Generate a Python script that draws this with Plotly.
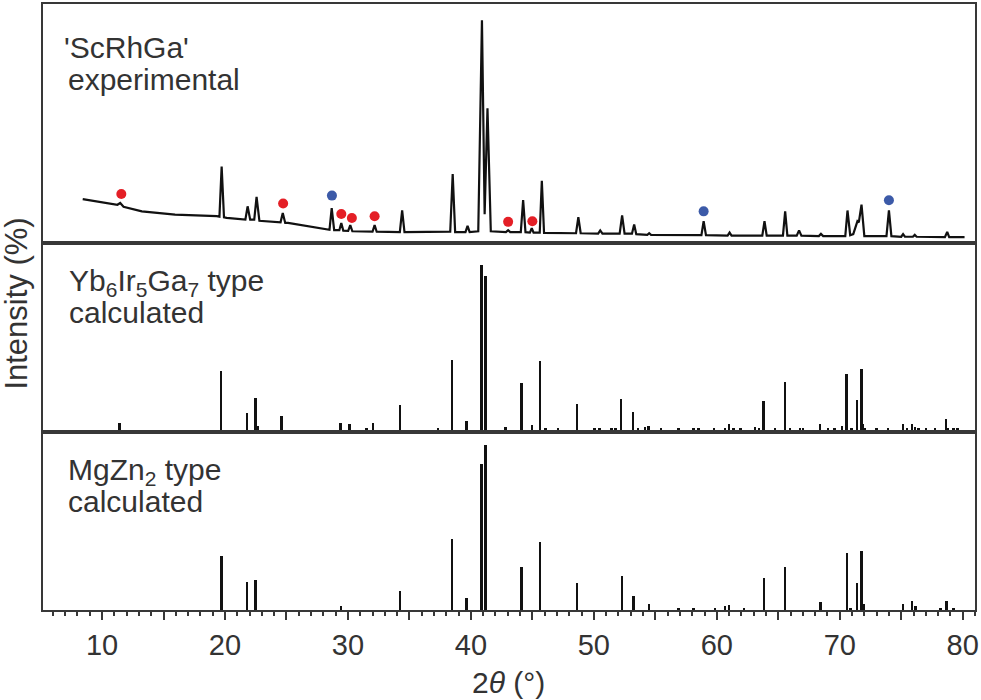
import plotly.graph_objects as go
from plotly.subplots import make_subplots

# experimental pattern ('ScRhGa'): 2theta / relative intensity
exp_2theta = [8.43, 9.46, 11.25, 11.48, 11.75, 13.24, 15.94, 19.33, 19.55, 19.73, 19.92, 20.14,
              21.48, 21.66, 21.84, 22.05, 22.38, 22.57, 22.8, 24.32, 24.52, 24.7, 24.9, 25.13,
              26.6, 28.11, 28.5, 28.68, 28.88, 29.3, 29.46, 29.62, 30.02, 30.19, 30.36, 32.0,
              32.17, 32.34, 34.22, 34.41, 34.6, 38.32, 38.52, 38.72, 39.56, 39.73, 39.9, 40.6,
              40.9, 41.12, 41.35, 41.62, 42.85, 43.03, 43.2, 44.06, 44.25, 44.44, 44.8, 44.95,
              45.1, 45.6, 45.77, 45.95, 48.55, 48.74, 48.93, 50.35, 50.52, 50.7, 52.1, 52.3,
              52.5, 53.1, 53.28, 53.45, 54.35, 54.5, 54.65, 58.75, 58.93, 59.12, 60.88, 61.04,
              61.2, 63.7, 63.88, 64.06, 65.38, 65.56, 65.74, 66.5, 66.69, 66.88, 68.3, 68.47,
              68.65, 70.45, 70.63, 70.85, 71.1, 71.44, 71.55, 71.77, 72.0, 73.8, 74.0, 74.2,
              75.0, 75.15, 75.3, 75.95, 76.1, 76.25, 78.55, 78.74, 78.9, 80.15]
exp_int = [18.3, 17.3, 15.7, 16.5, 14.8, 12.7, 11.2, 10.5, 10.3, 33.2, 10.0, 9.7,
           9.0, 8.9, 15.0, 8.9, 8.9, 19.3, 8.4, 7.9, 7.7, 12.0, 7.4, 7.4,
           5.9, 4.4, 4.3, 14.2, 4.1, 4.1, 7.4, 3.9, 3.8, 6.4, 3.6, 3.4,
           6.4, 3.4, 3.2, 13.1, 3.2, 3.4, 29.7, 3.2, 3.2, 6.1, 3.2, 3.6,
           100, 11.4, 59.8, 3.6, 3.2, 4.1, 3.2, 3.2, 17.8, 3.2, 3.0, 5.0,
           3.0, 3.0, 26.7, 2.9, 2.7, 10.0, 2.7, 2.5, 4.0, 2.5, 2.5, 10.8,
           2.5, 2.5, 6.7, 2.3, 2.0, 2.7, 2.0, 1.8, 8.2, 1.8, 1.6, 3.0,
           1.6, 1.6, 8.2, 1.6, 1.6, 12.7, 1.6, 1.6, 4.0, 1.6, 1.4, 2.4,
           1.4, 1.4, 13.1, 1.8, 2.3, 8.2, 7.7, 15.8, 1.4, 1.4, 13.1, 1.4,
           1.1, 2.3, 1.1, 1.1, 2.0, 1.1, 0.9, 3.3, 0.9, 0.9]

# impurity markers
red_2theta = [11.57, 24.73, 29.46, 30.32, 32.17, 43.03, 45.0]
red_int = [20.6, 16.3, 11.5, 9.7, 10.5, 7.9, 8.2]
blue_2theta = [28.70, 58.93, 74.0]
blue_int = [19.9, 12.7, 17.8]

# Yb6Ir5Ga7 type, calculated
yb_2theta = [11.43, 19.68, 21.81, 22.51, 22.7, 24.6, 29.41, 30.14, 31.54, 32.08, 34.25, 37.36,
             38.47, 39.68, 40.9, 41.22, 42.84, 44.14, 45.0, 45.63, 46.09, 47.11, 48.66, 50.09,
             50.47, 51.44, 51.77, 52.25, 53.2, 53.6, 54.2, 54.47, 55.5, 56.9, 58.12, 58.52,
             59.8, 60.69, 61.01, 61.39, 61.93, 63.12, 63.45, 63.82, 64.74, 65.56, 65.96, 66.77,
             67.04, 68.42, 69.07, 69.61, 70.2, 70.58, 70.96, 71.44, 71.77, 71.91, 72.09, 72.99,
             73.94, 75.15, 75.47, 75.9, 76.15, 76.42, 77.04, 77.77, 78.64, 78.8, 79.29, 79.61]
yb_int = [5.2, 36.4, 11.1, 19.9, 3.6, 9.4, 5.0, 4.6, 2.2, 5.2, 16.1, 2.0,
          42.8, 6.4, 100, 93.4, 3.0, 29.4, 4.2, 42.3, 2.0, 2.2, 16.5, 2.2,
          2.2, 2.2, 2.2, 19.5, 11.5, 2.2, 2.6, 3.2, 2.0, 2.0, 2.0, 2.0,
          2.0, 2.2, 4.6, 2.2, 2.2, 3.0, 2.2, 18.1, 2.2, 29.8, 2.0, 2.2,
          2.2, 4.6, 2.2, 2.2, 3.2, 34.8, 2.2, 18.9, 37.4, 4.6, 2.2, 2.0,
          2.0, 4.6, 2.2, 4.6, 3.0, 2.0, 2.0, 2.2, 7.6, 2.2, 2.2, 2.0]

# MgZn2 type, calculated
mg_2theta = [19.73, 21.81, 22.51, 29.46, 34.25, 38.47, 39.68, 40.87, 41.22, 44.14, 45.63, 48.66,
             52.3, 53.25, 54.52, 56.9, 58.12, 59.88, 60.69, 61.01, 62.25, 63.85, 65.56, 68.45,
             70.6, 70.9, 71.44, 71.77, 71.96, 75.15, 75.9, 76.18, 78.2, 78.69, 79.26]
mg_int = [33.1, 17.1, 18.5, 2.4, 11.6, 43.2, 7.6, 88.4, 100, 26.5, 41.2, 16.5,
          20.5, 8.6, 4.0, 1.2, 1.2, 1.2, 2.4, 3.4, 1.2, 19.7, 26.1, 5.0,
          34.7, 1.2, 16.7, 36.1, 3.6, 3.6, 5.6, 2.8, 1.2, 5.4, 1.2]

frame = "#383838"
ink = "#111111"
txt = "#333333"
font_txt = "Liberation Sans, Arial, sans-serif"
font_narrow = "Liberation Sans Narrow, Arial Narrow, Liberation Sans"

fig = make_subplots(rows=3, cols=1, shared_xaxes=True, vertical_spacing=0)

fig.add_trace(go.Scatter(x=exp_2theta, y=exp_int, mode="lines",
                         line=dict(color=ink, width=2.2)), row=1, col=1)
fig.add_trace(go.Scatter(x=red_2theta, y=red_int, mode="markers",
                         marker=dict(color="#e41f26", size=10)), row=1, col=1)
fig.add_trace(go.Scatter(x=blue_2theta, y=blue_int, mode="markers",
                         marker=dict(color="#3c5aa8", size=10)), row=1, col=1)
fig.add_trace(go.Bar(x=yb_2theta, y=yb_int, width=0.16,
                     marker=dict(color=ink, line=dict(width=0))), row=2, col=1)
fig.add_trace(go.Bar(x=mg_2theta, y=mg_int, width=0.16,
                     marker=dict(color=ink, line=dict(width=0))), row=3, col=1)

xaxis_common = dict(range=[5.2, 81], showline=True, linecolor=frame, linewidth=2,
                    mirror=True, showgrid=False, zeroline=False)
fig.update_xaxes(**xaxis_common)
fig.update_xaxes(ticks="", showticklabels=False, row=1, col=1)
fig.update_xaxes(ticks="", showticklabels=False, row=2, col=1)
# long ticks every 5 deg, labels every 10 deg, short ticks every degree
fig.update_xaxes(tickmode="linear", tick0=0, dtick=5, ticklabelstep=2,
                 ticks="outside", ticklen=8, tickwidth=2, tickcolor=frame,
                 minor=dict(tickmode="linear", tick0=0, dtick=1, ticks="outside",
                            ticklen=4, tickwidth=1.5, tickcolor=frame),
                 tickfont=dict(family=font_narrow, size=29, color=txt),
                 row=3, col=1)

yaxis_common = dict(showline=True, linecolor=frame, linewidth=2, mirror=True,
                    showgrid=False, zeroline=False, ticks="", showticklabels=False)
fig.update_yaxes(**yaxis_common)
fig.update_yaxes(range=[-1.7, 107.4], domain=[0.6058, 1], row=1, col=1)
fig.update_yaxes(range=[0, 112.9], domain=[0.2944, 0.6058], row=2, col=1)
fig.update_yaxes(range=[0, 107.8], domain=[0, 0.2944], row=3, col=1)

labels = [
    ("'ScRhGa'", 0.0200, 0.9580),
    ("experimental", 0.0243, 0.9054),
    ("Yb<sub>6</sub>Ir<sub>5</sub>Ga<sub>7</sub> type", 0.0260, 0.5743),
    ("calculated", 0.0260, 0.5210),
    ("MgZn<sub>2</sub> type", 0.0243, 0.2618),
    ("calculated", 0.0243, 0.2102),
]
for text, x, y in labels:
    fig.add_annotation(text=text, x=x, y=y, xref="paper", yref="paper",
                       xanchor="left", yanchor="top", showarrow=False,
                       font=dict(family=font_txt, size=30, color=txt))

fig.add_annotation(text="Intensity (%)", x=-0.0287, y=0.506, xref="paper", yref="paper",
                   xanchor="center", yanchor="middle", textangle=-90, showarrow=False,
                   font=dict(family=font_txt, size=31, color=txt))
fig.add_annotation(text="2<i>θ</i> (°)", x=0.499, y=-0.12, xref="paper", yref="paper",
                   xanchor="center", yanchor="middle", showarrow=False,
                   font=dict(family=font_narrow, size=30, color=txt))

fig.update_layout(width=981, height=700, showlegend=False, bargap=0,
                  plot_bgcolor="white", paper_bgcolor="white",
                  margin=dict(l=43, r=4, t=2, b=90))

fig.write_html("out.html", config={"displayModeBar": False},
               post_script="document.body.style.margin='0px';")
